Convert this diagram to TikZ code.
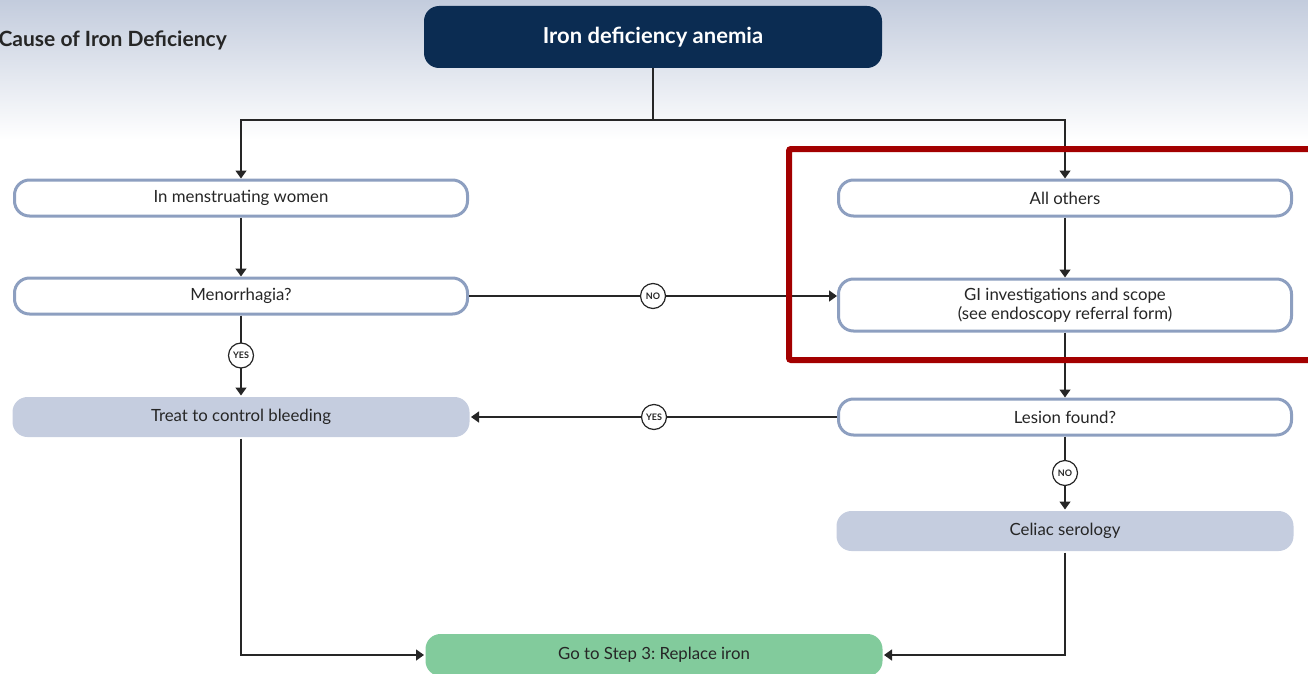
\documentclass[tikz,border=0pt]{standalone}
\usepackage{fontspec}
\setmainfont{Lato}
\usepackage{xcolor}
\usepackage{tikz}
\usetikzlibrary{arrows.meta}
\usetikzlibrary{shapes}
\frenchspacing

\definecolor{navy}{HTML}{0B2C52}
\definecolor{edgeblue}{HTML}{8D9FC0}
\definecolor{paleblue}{HTML}{C5CDDF}
\definecolor{mint}{HTML}{82CB9C}
\definecolor{inkgray}{HTML}{262626}
\definecolor{alertred}{HTML}{A30000}
\definecolor{skytop}{HTML}{C3CCDD}

\tikzset{
  flowbox/.style={draw=edgeblue, line width=3pt, fill=white, rounded corners=15pt,
    minimum width=453pt, minimum height=36pt, text=inkgray, align=center,
    font=\fontsize{16.8}{19}\selectfont},
  shadebox/.style={flowbox, draw=none, fill=paleblue, minimum width=457pt, minimum height=40pt},
  link/.style={line width=1.4pt, draw=inkgray, -{Triangle[width=11pt,length=8pt]}},
  plain/.style={line width=1.4pt, draw=inkgray},
  answer/.style={circle, draw=inkgray, line width=1.2pt, fill=white, minimum size=25pt,
    inner sep=0pt, text=inkgray, font=\fontsize{9}{9}\selectfont\bfseries},
}

\begin{document}
\begin{tikzpicture}[x=1pt, y=-1pt]
    \useasboundingbox (0,0) rectangle (1308,674);
    \shade[top color=skytop, bottom color=white] (0,0) rectangle (1308,140);

    \node[anchor=west, text=inkgray, font=\fontsize{21}{24}\selectfont\bfseries] (title) at (-5,40) {Cause of Iron Deficiency};
    \node[fill=navy, rounded corners=15pt, minimum width=458pt, minimum height=62pt, text=white,
          font=\fontsize{22}{25}\selectfont\bfseries] (ida) at (653,37) {Iron deficiency anemia};

    % left column
    \node[flowbox] (women) at (241,198) {In menstruating women};
    \node[flowbox] (menor) at (241,296) {Menorrhagia?};
    \node[shadebox] (treat) at (241,417) {Treat to control bleeding};

    % right column
    \node[flowbox] (others) at (1065,198) {All others};
    \node[flowbox, minimum height=52pt] (gi) at (1065,305) {GI investigations and scope\\(see endoscopy referral form)};
    \node[flowbox] (lesion) at (1065,417) {Lesion found?};
    \node[shadebox] (celiac) at (1065,531) {Celiac serology};

    \node[shadebox, fill=mint, minimum height=42pt] (go) at (654,655) {Go to Step 3: Replace iron};

    \coordinate (split) at (653,120);
    \draw[plain] (ida) -- (split);
    \draw[link] (split) -| (women.north);
    \draw[link] (split) -| (others.north);

    \draw[link] (women) -- (menor);
    \draw[link] (others) -- (gi);
    \draw[link] (menor.east) -- node[answer] (no1) {NO} (menor.east -| gi.west);
    \draw[link] (menor) -- node[answer] (yes1) {YES} (treat);
    \draw[link] (gi) -- (lesion);
    \draw[link] (lesion) -- node[answer] (yes2) {YES} (treat);
    \draw[link] (lesion) -- node[answer] (no2) {NO} (celiac);
    \draw[link] (treat.south) |- (go.west);
    \draw[link] (celiac.south) |- (go.east);

    \draw[alertred, line width=6pt, rounded corners=2pt] (789,149) rectangle (1330,360);
\end{tikzpicture}
\end{document}
